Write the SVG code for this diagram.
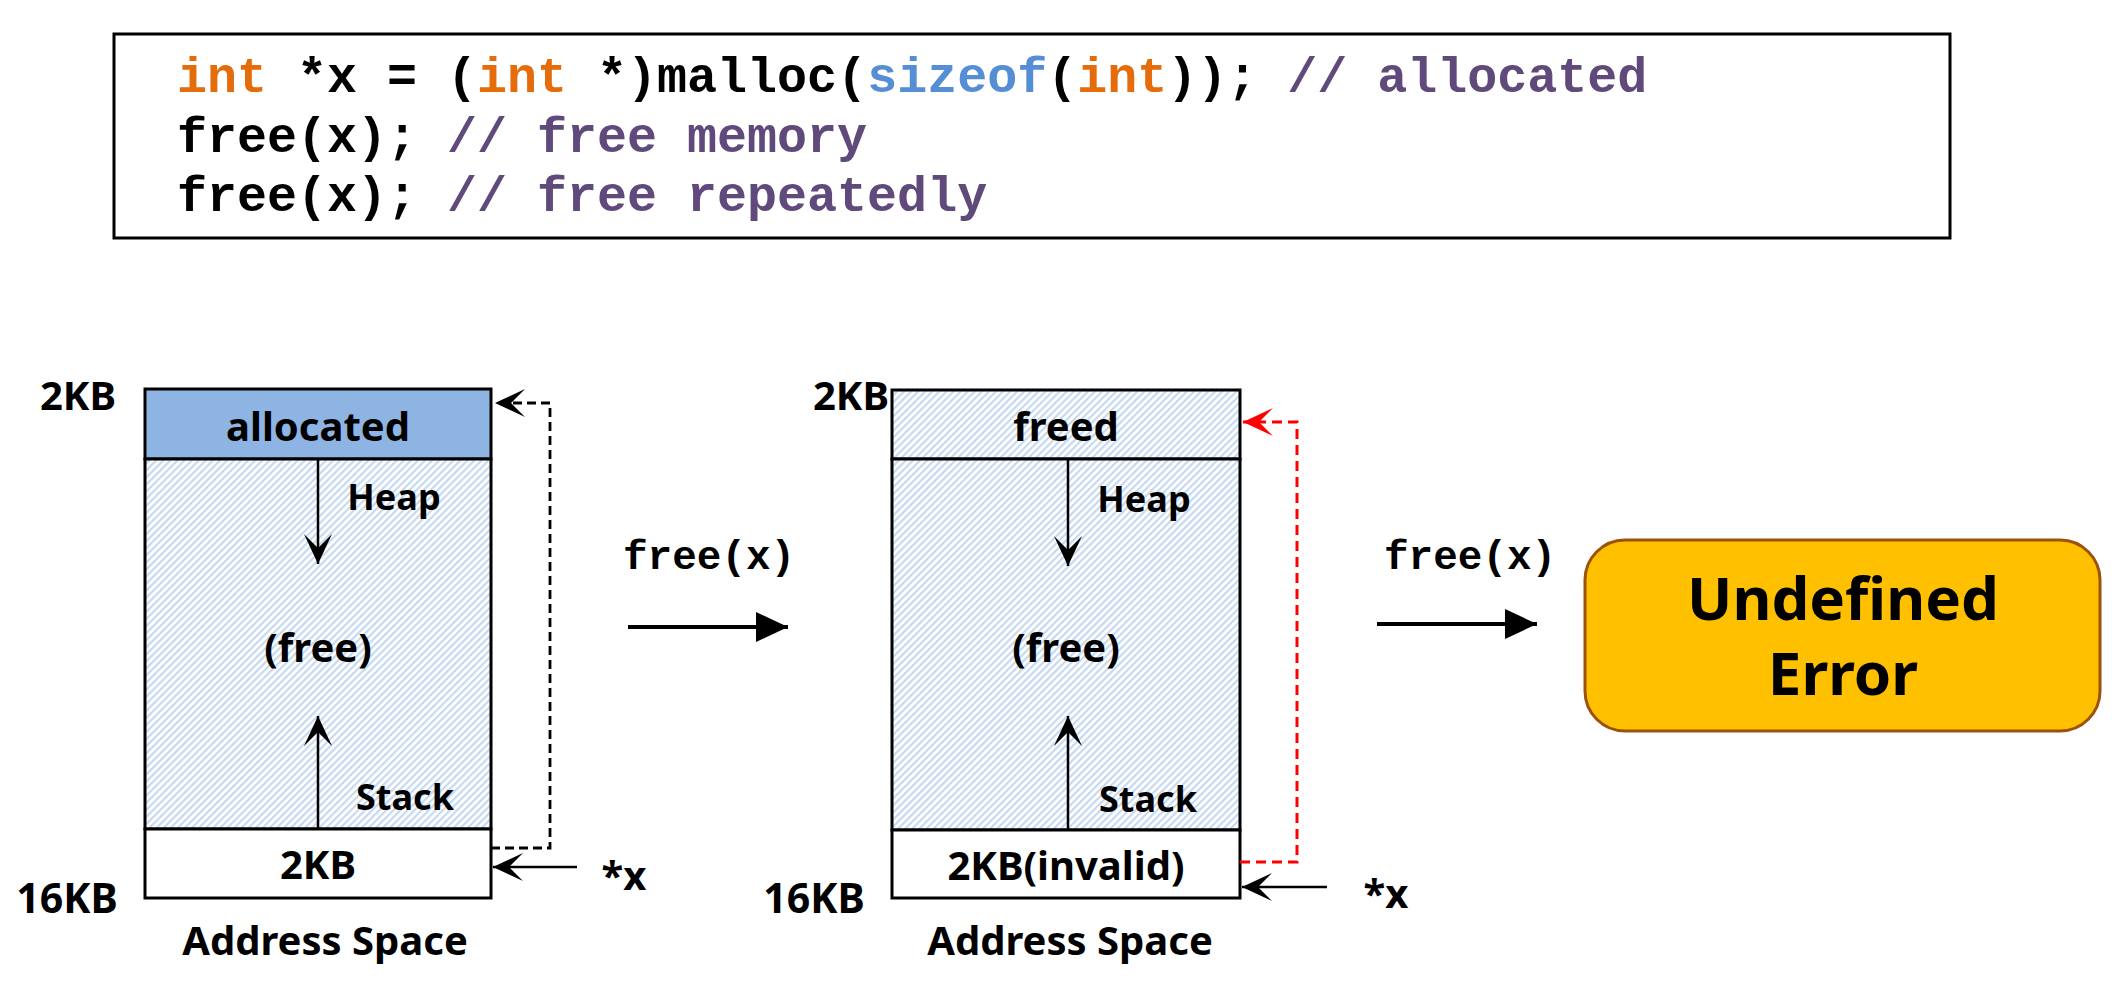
<svg xmlns="http://www.w3.org/2000/svg" width="2123" height="1000" viewBox="0 0 2123 1000">
<style>
.code{font-family:"Liberation Mono","Courier New",monospace;font-weight:bold;font-size:50px;fill:#000}
.kw{fill:#E46C0A}.fn{fill:#558ED5}.cm{fill:#604A7B}
.lbl{font-family:"Noto Sans","Open Sans",sans-serif;font-weight:bold;fill:#000;text-anchor:middle}
.box{stroke:#000;stroke-width:3}
.arr{stroke:#000;stroke-width:2.5;fill:none}
.mono{font-family:"Liberation Mono","Courier New",monospace;font-weight:bold;font-size:41px;fill:#000}
</style>
<defs>
<pattern id="hatch" patternUnits="userSpaceOnUse" width="5" height="5" patternTransform="rotate(45)">
<rect width="5" height="5" fill="#FFFFFF"/><rect width="2.2" height="5" fill="#C6D9F0"/>
</pattern>
<marker id="stealth" markerUnits="userSpaceOnUse" viewBox="0 -15 30 30" refX="30" refY="0" markerWidth="30" markerHeight="30" orient="auto">
<path d="M0,-14 L30,0 L0,14 L14,0 z" fill="#000"/>
</marker>
<marker id="stealthRed" markerUnits="userSpaceOnUse" viewBox="0 -15 30 30" refX="30" refY="0" markerWidth="30" markerHeight="30" orient="auto">
<path d="M0,-14 L30,0 L0,14 L14,0 z" fill="#FF0000"/>
</marker>
<marker id="tri" markerUnits="userSpaceOnUse" viewBox="0 -16 32 32" refX="32" refY="0" markerWidth="32" markerHeight="32" orient="auto">
<path d="M0,-15 L32,0 L0,15 z" fill="#000"/>
</marker>
</defs>

<g id="code">
<rect x="114" y="34" width="1836" height="204" fill="#fff" stroke="#000" stroke-width="3"/>
<text class="code" x="177" y="92"><tspan class="kw">int</tspan> *x = (<tspan class="kw">int</tspan> *)malloc(<tspan class="fn">sizeof</tspan>(<tspan class="kw">int</tspan>)); <tspan class="cm">// allocated</tspan></text>
<text class="code" x="177" y="152">free(x); <tspan class="cm">// free memory</tspan></text>
<text class="code" x="177" y="211">free(x); <tspan class="cm">// free repeatedly</tspan></text>
</g>

<g id="space1">
<rect class="box" x="145" y="389" width="346" height="70" fill="#8EB4E3"/>
<rect class="box" x="145" y="459" width="346" height="370" fill="url(#hatch)"/>
<rect class="box" x="145" y="829" width="346" height="69" fill="#fff"/>
<text class="lbl" x="318" y="441" font-size="40">allocated</text>
<text class="lbl" x="394" y="510" font-size="36">Heap</text>
<text class="lbl" x="318" y="662" font-size="40">(free)</text>
<text class="lbl" x="405" y="810" font-size="36">Stack</text>
<text class="lbl" x="318" y="879" font-size="40">2KB</text>
<text class="lbl" x="78" y="410" font-size="40">2KB</text>
<text class="lbl" x="67" y="913" font-size="41">16KB</text>
<text class="lbl" x="325" y="955" font-size="40">Address Space</text>
<line class="arr" x1="318" y1="459" x2="318" y2="564" marker-end="url(#stealth)"/>
<line class="arr" x1="318" y1="829" x2="318" y2="716" marker-end="url(#stealth)"/>
</g>

<g id="space2">
<rect class="box" x="892" y="390" width="348" height="69" fill="url(#hatch)"/>
<rect class="box" x="892" y="459" width="348" height="371" fill="url(#hatch)"/>
<rect class="box" x="892" y="830" width="348" height="68" fill="#fff"/>
<text class="lbl" x="1066" y="441" font-size="40">freed</text>
<text class="lbl" x="1144" y="512" font-size="36">Heap</text>
<text class="lbl" x="1066" y="662" font-size="40">(free)</text>
<text class="lbl" x="1148" y="812" font-size="36">Stack</text>
<text class="lbl" x="1066" y="880" font-size="40">2KB(invalid)</text>
<text class="lbl" x="851" y="410" font-size="40">2KB</text>
<text class="lbl" x="814" y="913" font-size="41">16KB</text>
<text class="lbl" x="1070" y="955" font-size="40">Address Space</text>
<line class="arr" x1="1068" y1="459" x2="1068" y2="566" marker-end="url(#stealth)"/>
<line class="arr" x1="1068" y1="830" x2="1068" y2="716" marker-end="url(#stealth)"/>
</g>

<g id="error">
<rect x="1585" y="540" width="515" height="191" rx="40" ry="40" fill="#FFC000" stroke="#9C5208" stroke-width="3"/>
<text class="lbl" x="1843" y="620" font-size="60"><tspan x="1843" y="620">Undefined</tspan><tspan x="1843" y="695">Error</tspan></text>
</g>

<g id="labels">
<text class="lbl" x="624" y="890" font-size="40">*x</text>
<text class="lbl" x="1386" y="908" font-size="40">*x</text>
<text class="mono" x="623" y="569">free(x)</text>
<text class="mono" x="1384" y="569">free(x)</text>
</g>

<g id="connectors">
<polyline points="491,848 550,848 550,403 495,403" fill="none" stroke="#000" stroke-width="2.8" stroke-dasharray="9,5" marker-end="url(#stealth)"/>
<line class="arr" x1="577" y1="867" x2="493" y2="867" marker-end="url(#stealth)"/>
<polyline points="1240,862 1297,862 1297,422 1243,422" fill="none" stroke="#FF0000" stroke-width="3" stroke-dasharray="10,6" marker-end="url(#stealthRed)"/>
<line class="arr" x1="1327" y1="887" x2="1242" y2="887" marker-end="url(#stealth)"/>
<line stroke="#000" stroke-width="4" x1="628" y1="627" x2="788" y2="627" marker-end="url(#tri)"/>
<line stroke="#000" stroke-width="4" x1="1377" y1="624" x2="1537" y2="624" marker-end="url(#tri)"/>
</g>
</svg>
